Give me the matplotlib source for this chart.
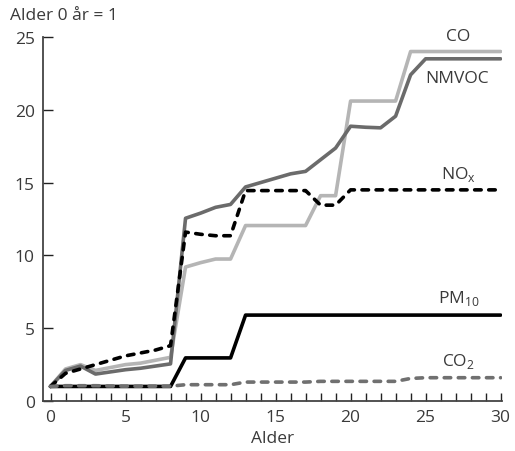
import matplotlib
matplotlib.use('Agg')
import matplotlib.pyplot as plt
from matplotlib.ticker import MultipleLocator

plt.rcParams['font.family'] = ['Open Sans', 'DejaVu Sans']

alder = list(range(0, 31))

co = [1.0, 2.2, 2.5, 2.1, 2.3, 2.5, 2.6, 2.8, 3.0,
      9.2, 9.5, 9.75, 9.75, 12.05, 12.05, 12.05, 12.05, 12.05,
      14.1, 14.1, 20.6, 20.6, 20.6, 20.6, 24.0, 24.0, 24.0, 24.0, 24.0, 24.0, 24.0]
nmvoc = [1.0, 2.1, 2.4, 1.85, 2.0, 2.15, 2.25, 2.4, 2.55,
         12.55, 12.9, 13.3, 13.5, 14.7, 15.0, 15.3, 15.6, 15.77,
         16.57, 17.37, 18.87, 18.8, 18.76, 19.56, 22.4, 23.5, 23.5, 23.5, 23.5, 23.5, 23.5]
nox = [1.0, 1.9, 2.2, 2.5, 2.8, 3.1, 3.3, 3.5, 3.8,
       11.6, 11.45, 11.35, 11.35, 14.45, 14.45, 14.45, 14.45, 14.45,
       13.45, 13.45, 14.5, 14.5, 14.5, 14.5, 14.5, 14.5, 14.5, 14.5, 14.5, 14.5, 14.5]
pm10 = [1.0] * 9 + [2.96] * 4 + [5.9] * 18
co2 = [1.0, 1.05, 1.05, 1.05, 1.03, 1.02, 1.02, 1.02, 1.02,
       1.12, 1.12, 1.12, 1.12, 1.3, 1.3, 1.3, 1.3, 1.3,
       1.35, 1.35, 1.35, 1.35, 1.35, 1.35, 1.55, 1.6, 1.6, 1.6, 1.6, 1.6, 1.6]

fig = plt.figure(figsize=(5.15, 4.52), dpi=100)
ax = fig.add_axes([0.0835, 0.1106, 0.8915, 0.8054])

lw = 2.6
dash = (0, (1.8, 2.1))
ax.plot(alder, co, color='#b5b5b5', lw=lw, solid_capstyle='round')
ax.plot(alder, nmvoc, color='#6b6b6b', lw=lw, solid_capstyle='round')
ax.plot(alder, nox, color='black', lw=lw, linestyle=dash, dash_capstyle='round')
ax.plot(alder, pm10, color='black', lw=lw, solid_capstyle='round')
ax.plot(alder, co2, color='#707070', lw=lw, linestyle=dash, dash_capstyle='round')

fs = 12.5
tc = '#3a3a3a'
ax.text(27.2, 25.1, 'CO', fontsize=fs, color=tc, ha='center', va='center')
ax.text(27.1, 22.2, 'NMVOC', fontsize=fs, color=tc, ha='center', va='center')
ax.text(27.2, 15.6, 'NO$_\\mathregular{x}$', fontsize=fs, color=tc, ha='center', va='center')
ax.text(27.2, 7.1, 'PM$_\\mathregular{10}$', fontsize=fs, color=tc, ha='center', va='center')
ax.text(27.2, 2.8, 'CO$_\\mathregular{2}$', fontsize=fs, color=tc, ha='center', va='center')

ax.set_xlim(-0.5, 30.1)
ax.set_ylim(0, 25)
ax.spines['top'].set_visible(False)
ax.spines['right'].set_visible(False)
for s in ['left', 'bottom']:
    ax.spines[s].set_linewidth(1.3)
    ax.spines[s].set_color('#444444')

ax.xaxis.set_major_locator(MultipleLocator(5))
ax.xaxis.set_minor_locator(MultipleLocator(1))
ax.yaxis.set_major_locator(MultipleLocator(5))
ax.tick_params(axis='x', which='both', direction='in', length=6, width=1.0,
               color='#222222', labelsize=fs, labelcolor=tc, pad=6)
ax.tick_params(axis='y', which='major', direction='in', length=7, width=1.0,
               color='#222222', labelsize=fs, labelcolor=tc, pad=6)

ax.set_xlabel('Alder', fontsize=fs, color=tc, labelpad=3)
fig.text(0.02, 0.965, 'Alder 0 år = 1', fontsize=fs, color=tc, ha='left', va='center')

fig.savefig('out.png', dpi=100)
